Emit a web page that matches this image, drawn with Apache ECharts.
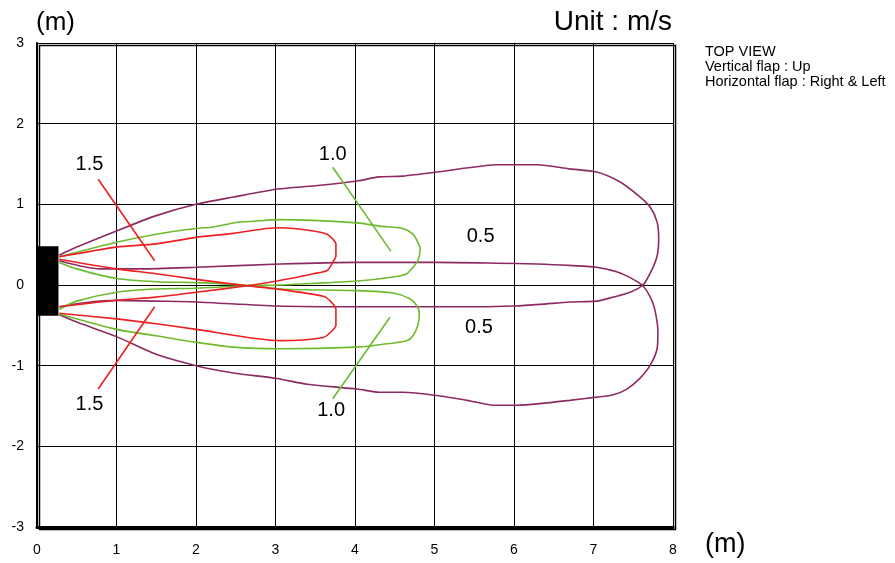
<!DOCTYPE html>
<html><head><meta charset="utf-8">
<script src="https://cdn.jsdelivr.net/npm/echarts@6/dist/echarts.min.js"></script>
<style>html,body{margin:0;padding:0;background:#fff}#c{width:895px;height:563px}</style>
</head><body><div id="c"></div>
<script>
// ---- data ----
const xTicks = [0,1,2,3,4,5,6,7,8];
const yTicks = [-3,-2,-1,0,1,2,3];
// 0.5 m/s contours (purple)
const purpleA = [[0.28,0.37],[0.5,0.47],[1.0,0.67],[1.5,0.86],[2.0,1.0],[2.47,1.09],[3.03,1.19],[3.5,1.23],[4.03,1.29],[4.3,1.34],[4.6,1.35],[5.03,1.40],[5.4,1.45],[5.79,1.49],[6.04,1.49],[6.29,1.49],[6.7,1.44],[7.04,1.40],[7.33,1.28],[7.55,1.12],[7.71,0.97],[7.8,0.78],[7.82,0.57],[7.8,0.36],[7.72,0.16],[7.62,0.0],[7.46,-0.09],[7.25,-0.15],[7.04,-0.2],[6.7,-0.21],[6.33,-0.24],[6.0,-0.26],[5.57,-0.27],[5.03,-0.27],[4.31,-0.27],[4.03,-0.27],[3.02,-0.26],[2.0,-0.21],[1.5,-0.2],[1.0,-0.19],[0.6,-0.22],[0.28,-0.27]];
const purpleB = [[0.28,0.30],[0.79,0.2],[1.3,0.2],[2.0,0.22],[3.06,0.26],[4.03,0.28],[5.03,0.28],[5.79,0.27],[6.29,0.26],[6.74,0.24],[7.04,0.22],[7.3,0.16],[7.5,0.07],[7.62,-0.01],[7.71,-0.14],[7.77,-0.3],[7.81,-0.58],[7.8,-0.79],[7.71,-1.0],[7.58,-1.16],[7.42,-1.29],[7.25,-1.36],[7.04,-1.39],[6.7,-1.43],[6.33,-1.47],[6.04,-1.49],[5.74,-1.49],[5.41,-1.43],[5.03,-1.37],[4.6,-1.33],[4.31,-1.33],[4.03,-1.29],[3.4,-1.23],[3.02,-1.16],[2.47,-1.09],[2.0,-1.0],[1.5,-0.86],[1.0,-0.64],[0.5,-0.46],[0.28,-0.37]];
// 1.0 m/s contours (green)
const greenA = [[0.28,0.28],[0.5,0.2],[1.0,0.08],[1.5,0.04],[2.0,0.03],[2.6,0.0],[3.06,-0.05],[4.03,-0.07],[4.48,-0.1],[4.69,-0.17],[4.78,-0.26],[4.81,-0.36],[4.79,-0.5],[4.73,-0.63],[4.65,-0.69],[4.31,-0.74],[4.03,-0.77],[3.06,-0.79],[2.47,-0.77],[2.0,-0.71],[1.5,-0.63],[1.0,-0.55],[0.28,-0.36]];
const greenB = [[0.28,-0.3],[0.5,-0.2],[1.0,-0.09],[1.5,-0.05],[2.0,-0.04],[2.6,-0.01],[3.06,0.0],[3.48,0.02],[4.03,0.05],[4.48,0.1],[4.65,0.14],[4.73,0.22],[4.79,0.3],[4.82,0.45],[4.79,0.53],[4.73,0.63],[4.6,0.7],[4.31,0.73],[4.03,0.77],[3.06,0.81],[2.72,0.79],[2.55,0.78],[2.22,0.72],[2.0,0.7],[1.5,0.63],[1.0,0.53],[0.28,0.35]];
// 1.5 m/s contours (red)
const redA = [[0.28,0.32],[1.0,0.2],[1.5,0.14],[2.0,0.07],[2.64,-0.01],[3.02,-0.05],[3.6,-0.14],[3.69,-0.2],[3.76,-0.3],[3.76,-0.5],[3.7,-0.58],[3.6,-0.65],[3.06,-0.69],[2.0,-0.55],[1.5,-0.48],[1.0,-0.42],[0.28,-0.35]];
const redB = [[0.28,-0.27],[1.0,-0.19],[1.5,-0.15],[2.0,-0.09],[2.64,-0.01],[3.02,0.05],[3.48,0.14],[3.65,0.18],[3.72,0.28],[3.76,0.36],[3.76,0.51],[3.72,0.57],[3.65,0.63],[3.48,0.67],[3.06,0.71],[2.89,0.7],[2.47,0.64],[2.0,0.59],[1.5,0.51],[1.0,0.47],[0.28,0.35]];
// leader lines
const leaderRedUp = [[0.77,1.31],[1.48,0.30]];
const leaderRedDn = [[0.77,-1.29],[1.48,-0.27]];
const leaderGreenUp = [[3.72,1.46],[4.45,0.42]];
const leaderGreenDn = [[4.44,-0.40],[3.72,-1.41]];
// contour labels
const labelText = ['1.5','1.5','1.0','1.0','0.5','0.5'];
const labelPos = [[0.66,1.49],[0.66,-1.48],[3.72,1.62],[3.7,-1.55],[5.58,0.6],[5.56,-0.53]];
// unit block
const unitBlock = [[0,0.27,-0.38,0.48]];

const PURPLE = '#8e2a62', GREEN = '#6cbb2e', RED = '#ec2020';
const FONT = 'Liberation Sans, Arial, sans-serif';

const chart = echarts.init(document.getElementById('c'), null, {renderer:'canvas'});
function line(data, color, w){
  return {type:'line', data, showSymbol:false, symbol:'none', smooth:0.25, animation:false,
          lineStyle:{color, width:w||1.6}, z:3, silent:true};
}
const series = [
  {type:'custom', data:unitBlock, animation:false, z:5, silent:true,
   renderItem:(p, api)=>{
     const a = api.coord([api.value(0), api.value(3)]);
     const b = api.coord([api.value(1), api.value(2)]);
     return {type:'rect', shape:{x:a[0], y:a[1], width:b[0]-a[0], height:b[1]-a[1]}, style:{fill:'#000'}};
   }},
  line(purpleA, PURPLE), line(purpleB, PURPLE),
  line(greenA, GREEN), line(greenB, GREEN),
  line(redA, RED), line(redB, RED),
  Object.assign(line(leaderRedUp, RED), {smooth:false}),
  Object.assign(line(leaderRedDn, RED), {smooth:false}),
  Object.assign(line(leaderGreenUp, GREEN), {smooth:false}),
  Object.assign(line(leaderGreenDn, GREEN), {smooth:false}),
  {type:'scatter', symbolSize:0, animation:false, silent:true, z:6,
   itemStyle:{opacity:1},
   data: labelPos.map((p,i)=>({value:p, label:{show:true, formatter:labelText[i], position:'inside',
     color:'#000', opacity:1, fontSize:20, fontFamily:FONT}}))}
];

chart.setOption({
  backgroundColor:'#fff',
  animation:false,
  grid:{left:37, top:43, width:636, height:484, show:false},
  xAxis:{type:'value', min:0, max:8, interval:1,
    axisLine:{show:true, onZero:false, lineStyle:{color:'#000', width:3}},
    axisTick:{show:false},
    axisLabel:{color:'#000', fontSize:14, fontFamily:FONT, margin:16},
    splitLine:{show:true, lineStyle:{color:'#000', width:1}}},
  yAxis:{type:'value', min:-3, max:3, interval:1,
    axisLine:{show:true, onZero:false, lineStyle:{color:'#000', width:2}},
    axisTick:{show:false},
    axisLabel:{color:'#000', fontSize:14, fontFamily:FONT, margin:13},
    splitLine:{show:true, lineStyle:{color:'#000', width:1}}},
  graphic:[
    {type:'rect', left:37, top:43, shape:{width:636, height:484}, style:{fill:'none', stroke:'#000', lineWidth:1.5}, z:10, silent:true},
    {type:'text', left:36, top:10, style:{text:'(m)', fontSize:26, fontFamily:FONT, fill:'#000'}},
    {type:'text', right:223, top:8, style:{text:'Unit : m/s', fontSize:28, fontFamily:FONT, fill:'#000', textAlign:'right'}},
    {type:'text', left:705, top:44, style:{text:'TOP VIEW\nVertical flap : Up\nHorizontal flap : Right & Left', fontSize:14.5, lineHeight:15, fontFamily:FONT, fill:'#000'}},
    {type:'text', left:705, top:531, style:{text:'(m)', fontSize:27, fontFamily:FONT, fill:'#000'}}
  ],
  series
});
</script></body></html>
